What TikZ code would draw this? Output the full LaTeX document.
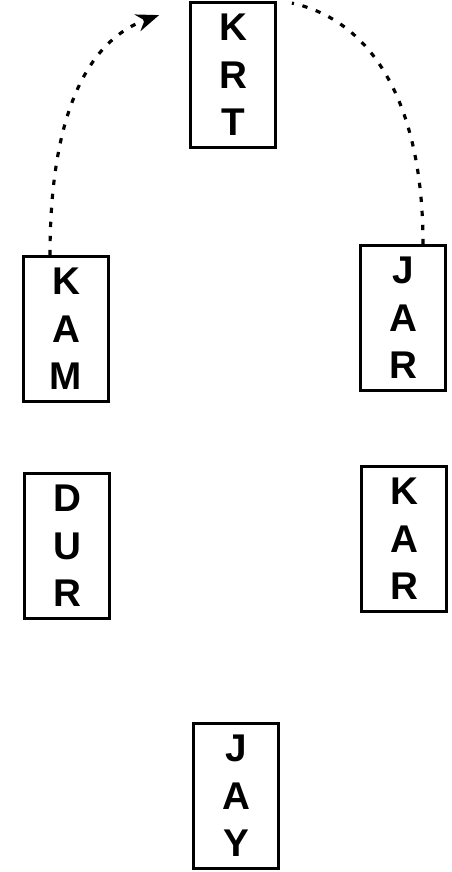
\documentclass[tikz,border=0pt]{standalone}
\usepackage{fontspec}
\setmainfont{Liberation Sans}
\usepackage{tikz}
\usetikzlibrary{arrows.meta,positioning}

\begin{document}
\begin{tikzpicture}[x=0.02cm,y=-0.02cm,font=\bfseries\fontsize{22}{27}\selectfont,city/.style={draw,line width=1.6pt,minimum width=1.7cm,minimum height=2.9cm,align=center,inner sep=2pt},link/.style={-{Stealth[length=13pt,width=10pt,sep=0pt]},line width=1.8pt,dash pattern=on 3pt off 5pt}]
\useasboundingbox (0,0) rectangle (452,872);
\node[city] (krt) at (233,75) {K\\R\\T};
\node[city] (kam) at (66,329) {K\\A\\M};
\node[city] (jar) at (403,318) {J\\A\\R};
\node[city] (dur) at (67,546) {D\\U\\R};
\node[city] (kar) at (404,539) {K\\A\\R};
\node[city] (jay) at (236,796) {J\\A\\Y};
\draw[link] ([xshift=-0.32cm]kam.north) .. controls (50,100) and (95,38) .. ([shift={(-0.6cm,-0.28cm)}]krt.north west);
\draw[link,-] ([xshift=0.4cm]jar.north) .. controls (423,100) and (370,20) .. ([shift={(0.3cm,-0.04cm)}]krt.north east);
\end{tikzpicture}
\end{document}
